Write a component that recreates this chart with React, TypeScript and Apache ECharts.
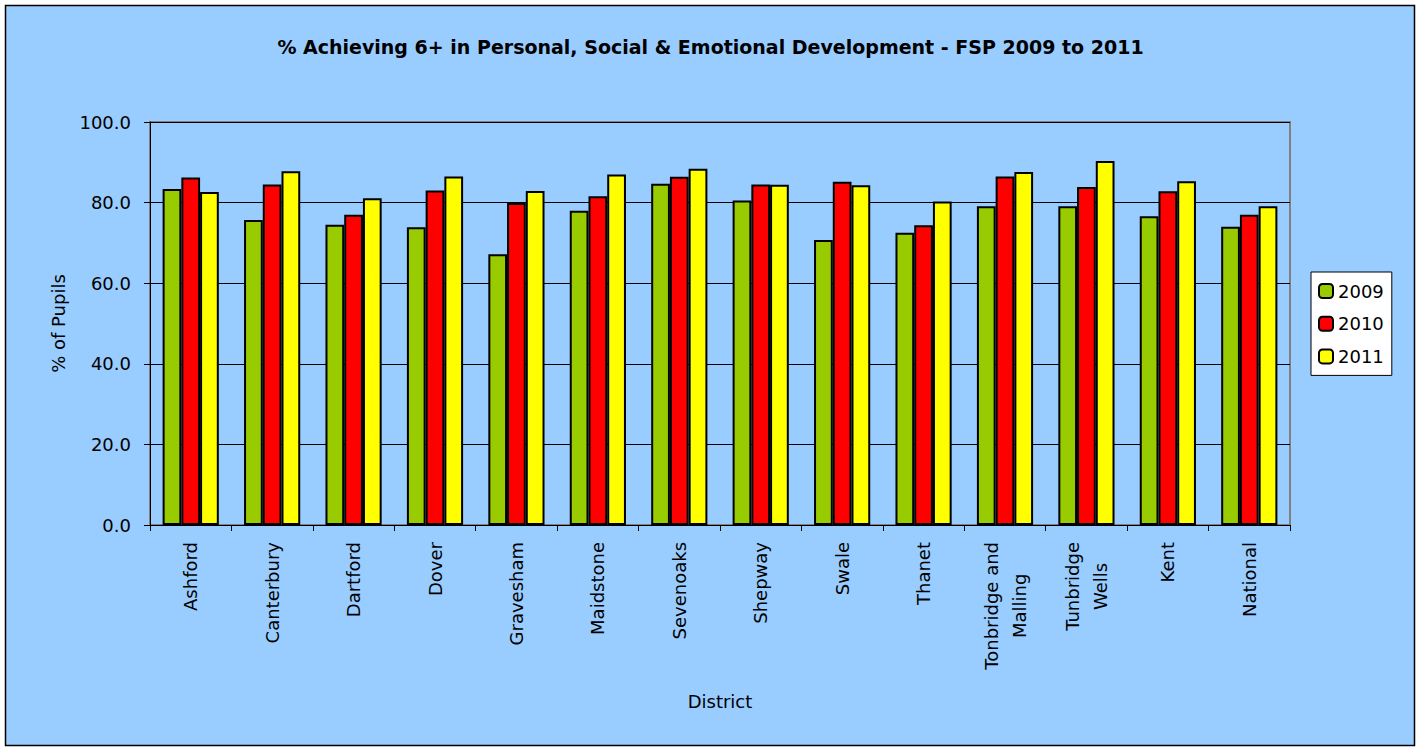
import React, { useEffect, useRef } from "react";
import * as echarts from "echarts";

const categories = [
  "Ashford",
  "Canterbury",
  "Dartford",
  "Dover",
  "Gravesham",
  "Maidstone",
  "Sevenoaks",
  "Shepway",
  "Swale",
  "Thanet",
  "Tonbridge and\nMalling",
  "Tunbridge\nWells",
  "Kent",
  "National",
];

const values2009 = [83.4, 75.7, 74.5, 73.9, 67.2, 78.0, 84.7, 80.5, 70.7, 72.5, 79.1, 79.1, 76.6, 74.0];
const values2010 = [86.2, 84.5, 77.0, 83.0, 79.9, 81.6, 86.4, 84.5, 85.2, 74.4, 86.5, 83.9, 82.8, 77.0];
const values2011 = [82.6, 87.8, 81.1, 86.5, 82.9, 87.0, 88.4, 84.4, 84.3, 80.3, 87.6, 90.3, 85.3, 79.1];

const seriesNames = ["2009", "2010", "2011"];
const seriesColors = ["#99CC00", "#FF0000", "#FFFF00"];

const FONT = "DejaVu Sans";

export default function App() {
  const ref = useRef<HTMLDivElement>(null);

  useEffect(() => {
    if (!ref.current) return;
    const chart = echarts.init(ref.current, undefined, { renderer: "svg" });
    const data = [values2009, values2010, values2011];
    chart.setOption({
      animation: false,
      backgroundColor: "#FFFFFF",
      textStyle: { fontFamily: FONT },
      graphic: [
        {
          type: "rect",
          z: -10,
          silent: true,
          shape: { x: 5.5, y: 5.5, width: 1409, height: 740 },
          style: { fill: "#99CCFF", stroke: "#000000", lineWidth: 1.5 },
        },
      ],
      title: {
        text: "% Achieving 6+ in Personal, Social & Emotional Development - FSP 2009 to 2011",
        left: "center",
        top: 32,
        textStyle: { fontFamily: FONT, fontSize: 19, fontWeight: "bold", color: "#000000" },
      },
      legend: {
        orient: "vertical",
        left: 1311,
        top: 272,
        padding: [10, 8, 10, 7],
        itemWidth: 14,
        itemHeight: 14,
        itemGap: 14.7,
        backgroundColor: "#FFFFFF",
        borderColor: "#000000",
        borderWidth: 1,
        textStyle: { fontFamily: FONT, fontSize: 18, color: "#000000" },
        data: seriesNames,
      },
      grid: {
        left: 150,
        right: 131,
        top: 122,
        bottom: 224,
        show: true,
        backgroundColor: "#99CCFF",
        borderColor: "#808080",
        borderWidth: 2,
      },
      xAxis: {
        type: "category",
        data: categories,
        name: "District",
        nameLocation: "middle",
        nameGap: 167,
        nameTextStyle: { fontFamily: FONT, fontSize: 18, color: "#000000" },
        axisLine: { show: true, lineStyle: { color: "#000000", width: 1 } },
        axisTick: { show: true, length: 6, lineStyle: { color: "#000000" } },
        axisLabel: {
          interval: 0,
          rotate: 90,
          margin: 17,
          color: "#000000",
          fontFamily: FONT,
          fontSize: 18,
          formatter: (v: string) =>
            v
              .split("\n")
              .map((line) => `{c|${line}}`)
              .join("\n"),
          rich: {
            c: { align: "center", fontFamily: FONT, fontSize: 18, lineHeight: 28, color: "#000000" },
          },
        },
      },
      yAxis: {
        type: "value",
        min: 0,
        max: 100,
        interval: 20,
        name: "% of Pupils",
        nameLocation: "middle",
        nameGap: 83,
        nameTextStyle: { fontFamily: FONT, fontSize: 18, color: "#000000" },
        axisLine: { show: true, lineStyle: { color: "#000000", width: 1 } },
        axisTick: { show: true, length: 6, lineStyle: { color: "#000000" } },
        axisLabel: {
          margin: 19,
          color: "#000000",
          fontFamily: FONT,
          fontSize: 18,
          formatter: (v: number) => v.toFixed(1),
        },
        splitLine: { show: true, lineStyle: { color: "#000000", width: 1 } },
      },
      series: seriesNames.map((name, i) => ({
        name,
        type: "bar",
        data: data[i],
        barGap: "0%",
        barCategoryGap: "31%",
        itemStyle: {
          color: seriesColors[i],
          borderColor: "#000000",
          borderWidth: 2,
        },
      })),
    });
    return () => chart.dispose();
  }, []);

  return (
    <div
      ref={ref}
      style={{ position: "fixed", left: 0, top: 0, width: 1421, height: 749 }}
    />
  );
}
